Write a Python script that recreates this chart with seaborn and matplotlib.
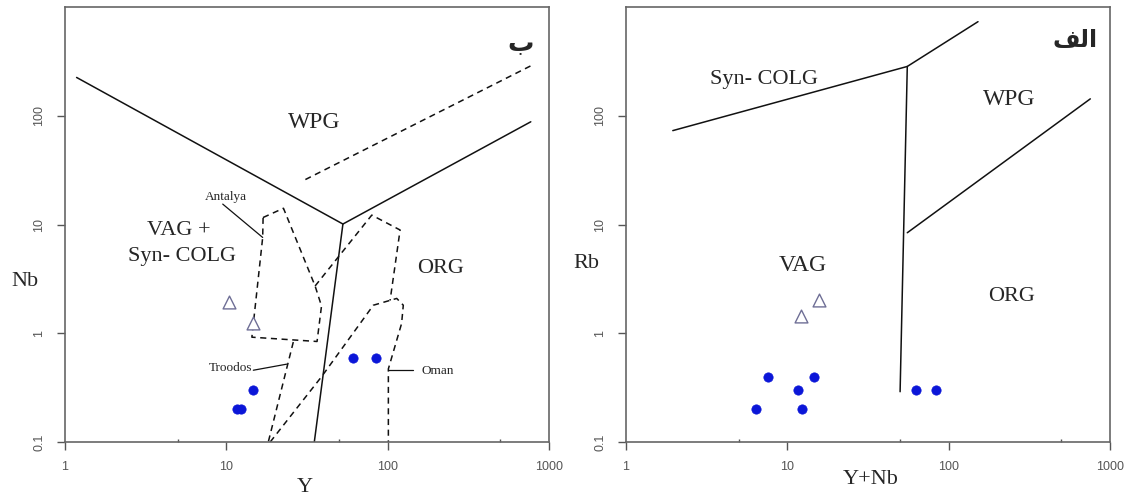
import matplotlib
matplotlib.use("Agg")
import matplotlib.pyplot as plt
import seaborn as sns
import pandas as pd

# ---------------- data ----------------
# left panel: Nb vs Y
left_circ_y = [11.6, 12.4, 14.6, 61.4, 84.3]
left_circ_nb = [0.2, 0.2, 0.3, 0.59, 0.59]
left_tri_y = [10.4, 14.6]
left_tri_nb = [1.92, 1.24]

# right panel: Rb vs Y+Nb
right_circ_ynb = [6.4, 7.6, 11.7, 12.4, 14.7, 62.3, 83.2]
right_circ_rb = [0.2, 0.4, 0.3, 0.2, 0.4, 0.3, 0.3]
right_tri_ynb = [12.1, 15.7]
right_tri_rb = [1.45, 2.03]

# field boundaries, left
nb_wpg_x = [1.18, 52.8, 771]
nb_wpg_y = [225, 10.1, 88]
nb_org_x = [52.8, 35.1]
nb_org_y = [10.1, 0.1]
nb_dash_x = [30.9, 779]
nb_dash_y = [25.9, 290]
antalya_x = [16.9, 22.6, 35.5, 38.9, 36.5, 14.4, 16.8, 16.9]
antalya_y = [11.6, 14.1, 2.72, 1.78, 0.84, 0.92, 7.6, 11.6]
troodos_a_x = [26.0, 18.2]
troodos_a_y = [0.83, 0.1]
troodos_b_x = [35.5, 79.7, 119.4, 103.5]
troodos_b_y = [2.72, 12.2, 8.9, 2.0]
oman_x = [18.7, 39.0, 81.5, 113.8, 125, 122, 101, 101]
oman_y = [0.1, 0.40, 1.81, 2.09, 1.81, 1.23, 0.47, 0.1]
antalya_lead_x = [9.5, 16.8]
antalya_lead_y = [15.4, 7.6]
troodos_lead_x = [14.7, 23.7]
troodos_lead_y = [0.457, 0.52]
oman_lead_x = [101, 144]
oman_lead_y = [0.46, 0.46]

# field boundaries, right
rb_colg_x = [1.95, 55.4, 152]
rb_colg_y = [73, 284, 733]
rb_vag_x = [55.4, 50.0]
rb_vag_y = [284, 0.29]
rb_wpg_x = [55.4, 755]
rb_wpg_y = [8.4, 143]

xticks = [1, 10, 100, 1000]
xtick_labels = ["1", "10", "100", "1000"]
yticks = [0.1, 1, 10, 100]
ytick_labels = ["0.1", "1", "10", "100"]

# ---------------- style ----------------
sns.set_style("white")
plt.rcParams['font.family'] = ['Liberation Sans', 'DejaVu Sans']

SERIF = ['Liberation Serif', 'DejaVu Serif']
CIRC = "#0b16d8"
TRI = "#6f6f96"
LINE = "#111111"

fig = plt.figure(figsize=(11.26, 5.0), dpi=100)
ax_l = fig.add_axes([65 / 1126, 58 / 500, 484 / 1126, 435 / 500])
ax_r = fig.add_axes([626 / 1126, 58 / 500, 484 / 1126, 435 / 500])


def setup(ax):
    ax.set_xscale("log")
    ax.set_yscale("log")
    ax.set_xlim(1, 1000)
    ax.set_ylim(0.1, 1000)
    ax.set_xticks(xticks)
    ax.set_xticklabels(xtick_labels)
    ax.set_xticks([5, 50, 500], minor=True)
    ax.set_yticks(yticks)
    ax.set_yticklabels(ytick_labels, rotation=90, va="center")
    ax.set_yticks([], minor=True)
    ax.tick_params(which="major", direction="out", length=6, width=1, color="#555555",
                   labelsize=9, labelcolor="#555555", bottom=True, left=True, pad=8)
    ax.tick_params(which="minor", direction="in", length=2.5, width=1, color="#555555",
                   bottom=True, left=False)
    for s in ax.spines.values():
        s.set_color("#666666")
        s.set_linewidth(1.2)


def points(ax, cx, cy, tx, ty):
    dc = pd.DataFrame({"x": cx, "y": cy})
    dt = pd.DataFrame({"x": tx, "y": ty})
    sns.scatterplot(data=dc, x="x", y="y", ax=ax, color=CIRC, s=45,
                    edgecolor=CIRC, linewidth=0.5, zorder=5)
    sns.scatterplot(data=dt, x="x", y="y", ax=ax, marker="^", s=85,
                    facecolor="white", edgecolor=TRI, linewidth=1.0, zorder=5)


# ---------------- left panel ----------------
setup(ax_l)
ax_l.plot(nb_wpg_x, nb_wpg_y, color=LINE, lw=1.1)
ax_l.plot(nb_org_x, nb_org_y, color=LINE, lw=1.1)
ax_l.plot(nb_dash_x, nb_dash_y, color=LINE, lw=1.1, ls=(0, (4, 3)))
for xs, ys in [(antalya_x, antalya_y), (troodos_a_x, troodos_a_y),
               (troodos_b_x, troodos_b_y), (oman_x, oman_y)]:
    ax_l.plot(xs, ys, color=LINE, lw=1.1, ls=(0, (4, 3)))
for xs, ys in [(antalya_lead_x, antalya_lead_y), (troodos_lead_x, troodos_lead_y),
               (oman_lead_x, oman_lead_y)]:
    ax_l.plot(xs, ys, color=LINE, lw=0.9)
points(ax_l, left_circ_y, left_circ_nb, left_tri_y, left_tri_nb)

ax_l.text(35, 86, "WPG", family=SERIF, fontsize=17, ha="center", va="center")
ax_l.text(5.06, 8.9, "VAG +", family=SERIF, fontsize=16, ha="center", va="center")
ax_l.text(5.3, 5.06, "Syn- COLG", family=SERIF, fontsize=16, ha="center", va="center")
ax_l.text(214, 3.95, "ORG", family=SERIF, fontsize=16, ha="center", va="center")
ax_l.text(9.9, 18.0, "Antalya", family=SERIF, fontsize=9.5, ha="center", va="center")
ax_l.text(14.4, 0.48, "Troodos", family=SERIF, fontsize=9.5, ha="right", va="center")
ax_l.text(161, 0.45, "Oman", family=SERIF, fontsize=9.5, ha="left", va="center")
ax_l.text(0.968, 0.915, "ب", transform=ax_l.transAxes, family=['DejaVu Sans'],
          fontweight="bold", fontsize=19, ha="right", va="center")

ax_l.set_xlabel("Y", family=SERIF, fontsize=16)
ax_l.xaxis.set_label_coords(0.496, -0.105)
ax_l.xaxis.label.set_va("center")
ax_l.set_ylabel("Nb", family=SERIF, fontsize=16, rotation=0)
ax_l.yaxis.set_label_coords(-0.083, 0.368)
ax_l.yaxis.label.set_va("center")
ax_l.yaxis.label.set_ha("center")

# ---------------- right panel ----------------
setup(ax_r)
ax_r.plot(rb_colg_x, rb_colg_y, color=LINE, lw=1.1)
ax_r.plot(rb_vag_x, rb_vag_y, color=LINE, lw=1.1)
ax_r.plot(rb_wpg_x, rb_wpg_y, color=LINE, lw=1.1)
points(ax_r, right_circ_ynb, right_circ_rb, right_tri_ynb, right_tri_rb)

ax_r.text(7.2, 214, "Syn- COLG", family=SERIF, fontsize=16, ha="center", va="center")
ax_r.text(237, 140, "WPG", family=SERIF, fontsize=17, ha="center", va="center")
ax_r.text(12.5, 4.24, "VAG", family=SERIF, fontsize=17, ha="center", va="center")
ax_r.text(244, 2.16, "ORG", family=SERIF, fontsize=16, ha="center", va="center")
# "الف" written in presentation forms so it shapes correctly
ax_r.text(0.975, 0.924, "\uFED2\uFEDF\uFE8D", transform=ax_r.transAxes,
          family=['DejaVu Sans'], fontweight="bold", fontsize=17, ha="right", va="center")

ax_r.set_xlabel("Y+Nb", family=SERIF, fontsize=16)
ax_r.xaxis.set_label_coords(0.506, -0.087)
ax_r.xaxis.label.set_va("center")
ax_r.set_ylabel("Rb", family=SERIF, fontsize=16, rotation=0)
ax_r.yaxis.set_label_coords(-0.081, 0.411)
ax_r.yaxis.label.set_va("center")
ax_r.yaxis.label.set_ha("center")

fig.savefig("out.png", dpi=100, facecolor="white")
